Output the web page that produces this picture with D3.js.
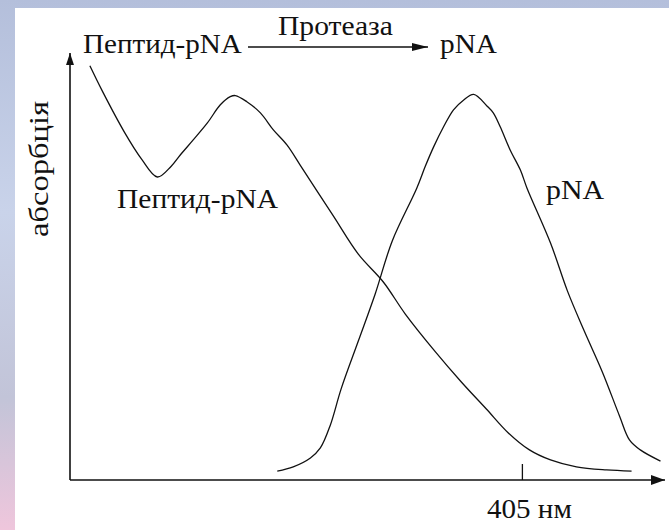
<!DOCTYPE html>
<html>
<head>
<meta charset="utf-8">
<script src="https://cdn.jsdelivr.net/npm/d3@7"></script>
<style>
  html, body { margin: 0; padding: 0; }
  svg { display: block; }
</style>
</head>
<body>
<div id="fig"></div>
<script>
// wavelength (nm) / relative absorbance
const peptideNm  = [261.6, 265.7, 273.0, 278.7, 284.0, 288.6, 291.6, 295.9, 300.6, 304.9, 308.2, 309.9, 313.7, 318.2, 322.5, 327.0, 331.4, 342.4, 350.7, 359.0, 366.3, 376.3, 384.9, 393.2, 400.5, 407.5, 414.5, 423.1, 433.1, 441.4];
const peptideAbs = [1.073, 1.008, 0.902, 0.832, 0.785, 0.813, 0.842, 0.881, 0.925, 0.972, 0.993, 0.996, 0.980, 0.951, 0.907, 0.868, 0.816, 0.684, 0.585, 0.513, 0.430, 0.332, 0.254, 0.184, 0.122, 0.078, 0.052, 0.034, 0.026, 0.023];

const pnaNm  = [323.8, 329.1, 334.8, 338.1, 341.4, 345.0, 350.7, 356.3, 362.0, 370.1, 372.9, 375.7, 379.0, 382.3, 385.6, 389.0, 393.4, 395.5, 397.8, 401.1, 404.5, 406.7, 414.5, 420.1, 425.7, 431.7, 437.4, 440.7, 444.3, 451.0];
const pnaAbs = [0.023, 0.034, 0.057, 0.083, 0.142, 0.236, 0.360, 0.482, 0.620, 0.756, 0.812, 0.863, 0.915, 0.959, 0.984, 0.999, 0.969, 0.951, 0.915, 0.855, 0.803, 0.756, 0.614, 0.490, 0.386, 0.280, 0.166, 0.104, 0.078, 0.049];

const xTicks = [405];
const xTickLabel = "405 нм";
const yLabel = "абсорбція";
const reactionLabels = ["Пептид-pNA", "Протеаза", "pNA"];
const curveLabels = ["Пептид-pNA", "pNA"];

const W = 669, H = 530;
const FONT = 28;

const svg = d3.select('#fig')
    .append('svg')
        .attr('width', W)
        .attr('height', H);

// slide background
const defs = svg.append('defs');
const bg = defs.append('linearGradient')
    .attr('id', 'bggrad')
    .attr('x1', '0%').attr('x2', '0%')
    .attr('y1', '0%').attr('y2', '100%');
bg.append('stop').attr('offset', '0%').style('stop-color', '#b4bfdb');
bg.append('stop').attr('offset', '40%').style('stop-color', '#c9d3ea');
bg.append('stop').attr('offset', '75%').style('stop-color', '#c2c4d8');
bg.append('stop').attr('offset', '100%').style('stop-color', '#efc6dc');

svg.append('rect')
    .attr('width', W).attr('height', H)
    .attr('fill', 'url(#bggrad)');
svg.append('rect')
    .attr('x', 15).attr('y', 8)
    .attr('width', W - 15).attr('height', H - 8)
    .attr('fill', '#fff');

// arrowheads
function marker(id, len, wid) {
    defs.append('marker')
        .attr('id', id)
        .attr('markerUnits', 'userSpaceOnUse')
        .attr('markerWidth', len).attr('markerHeight', wid)
        .attr('refX', len).attr('refY', wid / 2)
        .attr('orient', 'auto')
      .append('path')
        .attr('d', `M0,0L${len},${wid / 2}L0,${wid}Z`)
        .attr('fill', '#111');
}
marker('arrX', 14, 10);
marker('arrY', 12, 8);
marker('arrR', 16, 8);

// serif text, stretched horizontally to the width it has in the picture
function stretch(el, width) {
    const w = el.getComputedTextLength();
    return w > 0 ? width / w : 1;
}
function label(str, px, py, width, rot) {
    const t = svg.append('text')
        .style('font-family', '"Liberation Serif"')
        .style('font-size', FONT + 'px')
        .attr('fill', '#111')
        .text(str);
    const sx = stretch(t.node(), width);
    t.attr('transform', `translate(${px},${py})` + (rot ? ` rotate(${rot})` : '') + ` scale(${sx},1)`);
    return t;
}

const x = d3.scaleLinear().domain([255, 452.5]).range([70, 665]);
const y = d3.scaleLinear().domain([0, 1]).range([480, 94]);

// x axis
const xAxis = svg.append('g')
    .attr('transform', `translate(0,${y(0)})`)
    .call(d3.axisBottom(x)
        .tickValues(xTicks)
        .tickSizeInner(-16)
        .tickSizeOuter(0)
        .tickPadding(18)
        .tickFormat(() => xTickLabel));
xAxis.select('.domain').remove();
xAxis.selectAll('.tick line').attr('stroke', '#111').attr('stroke-width', 1.3);
xAxis.selectAll('.tick text')
    .style('font-family', '"Liberation Serif"')
    .style('font-size', FONT + 'px')
    .attr('fill', '#111')
    .attr('transform', function() { return `translate(7,0) scale(${stretch(this, 85)},1)`; });

svg.append('line')
    .attr('x1', x(255)).attr('x2', x(452.5))
    .attr('y1', y(0)).attr('y2', y(0))
    .attr('stroke', '#111').attr('stroke-width', 1.6)
    .attr('marker-end', 'url(#arrX)');

// y axis
svg.append('line')
    .attr('x1', x(255)).attr('x2', x(255))
    .attr('y1', y(0)).attr('y2', y(1.106))
    .attr('stroke', '#111').attr('stroke-width', 1.6)
    .attr('marker-end', 'url(#arrY)');

label(yLabel, 48, 169, 136, -90).attr('text-anchor', 'middle');

// spectra
const line = d3.line()
    .x(d => x(d[0]))
    .y(d => y(d[1]))
    .curve(d3.curveCatmullRom.alpha(0.5));

svg.append('path')
    .datum(d3.zip(peptideNm, peptideAbs))
    .attr('d', line)
    .attr('fill', 'none')
    .attr('stroke', '#111')
    .attr('stroke-width', 1.3);

svg.append('path')
    .datum(d3.zip(pnaNm, pnaAbs))
    .attr('d', line)
    .attr('fill', 'none')
    .attr('stroke', '#111')
    .attr('stroke-width', 1.3);

// curve labels
label(curveLabels[0], 117, 208, 161);
label(curveLabels[1], 546, 199, 58);

// reaction scheme on top
label(reactionLabels[0], 83, 53, 159);
svg.append('line')
    .attr('x1', 248).attr('x2', 428)
    .attr('y1', 47).attr('y2', 47)
    .attr('stroke', '#111').attr('stroke-width', 1.4)
    .attr('marker-end', 'url(#arrR)');
label(reactionLabels[1], 278, 35, 115);
label(reactionLabels[2], 440, 53, 57);
</script>
</body>
</html>
